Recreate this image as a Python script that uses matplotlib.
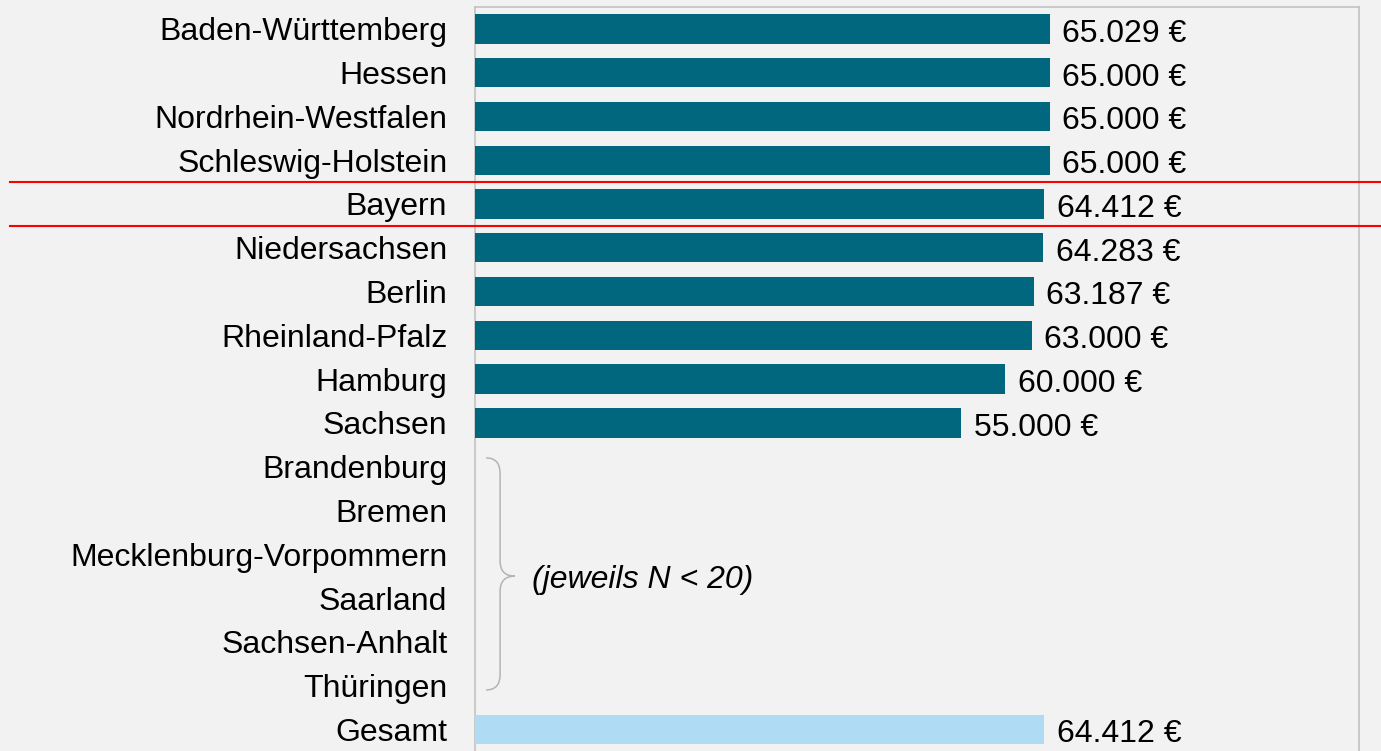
import matplotlib.pyplot as plt
from matplotlib.path import Path
from matplotlib.patches import PathPatch

# Data
states = ['Baden-Württemberg', 'Hessen', 'Nordrhein-Westfalen', 'Schleswig-Holstein',
          'Bayern', 'Niedersachsen', 'Berlin', 'Rheinland-Pfalz', 'Hamburg', 'Sachsen',
          'Brandenburg', 'Bremen', 'Mecklenburg-Vorpommern', 'Saarland',
          'Sachsen-Anhalt', 'Thüringen', 'Gesamt']
values = [65029, 65000, 65000, 65000, 64412, 64283, 63187, 63000, 60000, 55000,
          None, None, None, None, None, None, 64412]
small_n_note = '(jeweils N < 20)'
highlight = 'Bayern'
total_label = 'Gesamt'

bg = '#f2f2f2'
dark = '#00677f'
light = '#afdbf5'
fs = 23

plt.rcParams['font.family'] = ['Liberation Sans', 'DejaVu Sans']

fig = plt.figure(figsize=(13.81, 7.51), dpi=100, facecolor=bg)
ax = fig.add_axes([0.344, -0.012, 0.640, 1.0027], facecolor=bg)

rows = list(range(len(states)))
for i, (s, v) in enumerate(zip(states, values)):
    if v is None:
        continue
    c = light if s == total_label else dark
    ax.barh(i, v, height=0.67, color=c, zorder=3)
    ax.annotate(f'{v:,} €'.replace(',', '.'), xy=(v, i), xytext=(9, -1),
                textcoords='offset points', va='center_baseline', ha='left',
                fontsize=fs)

ax.set_xlim(0, 100000)
ax.set_ylim(16.7, -0.5)
ax.set_yticks(rows)
ax.set_yticklabels(states, fontsize=fs)
ax.tick_params(axis='y', length=0, pad=20)
ax.set_xticks([])
for sp in ax.spines.values():
    sp.set_color('#bfbfbf')
    sp.set_linewidth(1.1)

# Red lines around the highlighted row
hi = states.index(highlight)
for yy in (hi - 0.5, hi + 0.5):
    ax.plot([-0.526, 1.05], [yy, yy], color='#ff0000', lw=1.5,
            transform=ax.get_yaxis_transform(), clip_on=False, zorder=5)

# Curly brace for rows without values
missing = [i for i, v in enumerate(values) if v is None]
y0 = missing[0] - 0.2
y1 = missing[-1] + 0.1
ym = (missing[0] + missing[-1]) / 2
x0, x1, x2 = 1250, 2830, 4500
verts = [(x0, y0), (x1, y0), (x1, y0 + 0.35),
         (x1, ym - 0.35),
         (x1, ym), (x2, ym),
         (x1, ym), (x1, ym + 0.35),
         (x1, y1 - 0.35),
         (x1, y1), (x0, y1)]
codes = [Path.MOVETO, Path.CURVE3, Path.CURVE3,
         Path.LINETO,
         Path.CURVE3, Path.CURVE3,
         Path.CURVE3, Path.CURVE3,
         Path.LINETO,
         Path.CURVE3, Path.CURVE3]
ax.add_patch(PathPatch(Path(verts, codes), facecolor='none',
                       edgecolor='#b4b4b4', lw=1.1, zorder=4))
ax.text(6450, ym, small_n_note, fontsize=fs, style='italic',
        va='center_baseline', ha='left')

fig.savefig('out.png', dpi=100, facecolor=bg)
